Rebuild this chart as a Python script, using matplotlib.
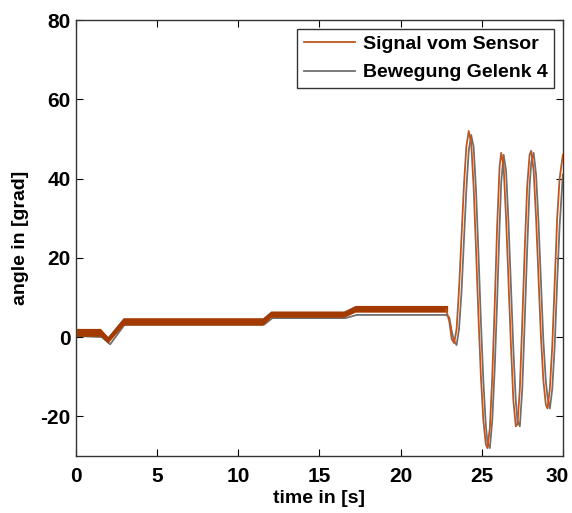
import matplotlib
matplotlib.use('Agg')
import matplotlib.pyplot as plt
import matplotlib.transforms as mtransforms
import numpy as np

# slow part of the sensor signal: noisy band (lower / upper edge)
band_t = [0, 1.5, 1.95, 2.9, 11.5, 12.0, 16.5, 17.2, 22.9]
band_lo = [0.2, 0.2, -1.5, 3.0, 3.0, 5.0, 5.0, 6.3, 6.3]
band_hi = [2.2, 2.2, 0.2, 4.9, 4.9, 6.6, 6.6, 8.0, 8.0]

# joint movement before the oscillation
gelenk_slow_t = [0, 1.6, 2.1, 3.0, 11.6, 12.1, 16.6, 17.3, 22.8]
gelenk_slow_v = [0.3, 0.0, -1.8, 3.2, 3.2, 4.8, 4.8, 5.6, 5.6]

# oscillation part (same time grid for both series)
osc_t = [22.8, 23.0, 23.15, 23.3, 23.45, 23.6, 23.75, 23.9, 24.05, 24.2,
         24.35, 24.5, 24.65, 24.8, 24.95, 25.1, 25.25, 25.35, 25.5, 25.65,
         25.8, 25.95, 26.1, 26.2, 26.35, 26.5, 26.65, 26.8, 26.95, 27.1,
         27.2, 27.35, 27.5, 27.65, 27.8, 27.95, 28.05, 28.2, 28.35, 28.5,
         28.65, 28.8, 28.95, 29.05, 29.2, 29.35, 29.5, 29.65, 29.8, 30.0]
sensor_osc = [7, 4, -0.5, -1.5, 2, 12, 25, 38, 48, 52,
              49, 38, 22, 5, -10, -21, -27, -28, -23, -10,
              8, 28, 43, 46.5, 43, 30, 14, -2, -16, -22.5,
              -22, -13, 4, 22, 38, 46, 47, 42, 30, 15,
              0, -11, -17, -18, -13, -2, 14, 30, 40, 46]
gelenk_osc = [5.6, 5, 1.5, -1, -2, 2, 11, 24, 37, 47,
              51, 48, 37, 21, 4, -11, -22, -26.5, -28, -21,
              -8, 9, 28, 39, 46, 42, 29, 13, -3, -16,
              -21, -22.5, -13, 4, 22, 38, 44, 46.5, 41, 29,
              14, -1, -11, -15, -18, -13, -2, 14, 28, 41]

x_ticks = [0, 5, 10, 15, 20, 25, 30]
y_ticks = [-20, 0, 20, 40, 60, 80]

brown_band = '#a33a00'
brown_line = '#c0561f'
gray = '#707070'

plt.rcParams['font.family'] = ['Liberation Sans', 'DejaVu Sans']
plt.rcParams['font.weight'] = 'bold'
plt.rcParams['axes.unicode_minus'] = False

fig = plt.figure(figsize=(5.72, 5.13), dpi=100)
ax = fig.add_axes([0.133, 0.111, 0.851, 0.850])

# joint movement (gray) below the sensor signal
ax.plot(gelenk_slow_t, gelenk_slow_v, color=gray, lw=1.3, zorder=2)
ax.plot(osc_t, gelenk_osc, color=gray, lw=1.3, zorder=2)

# sensor signal
ax.fill_between(band_t, band_lo, band_hi, color=brown_band, lw=0, zorder=3)
ax.plot(osc_t, sensor_osc, color=brown_line, lw=1.3, zorder=3)

# legend handles
h1, = ax.plot([], [], color=brown_line, lw=1.3, label='Signal vom Sensor')
h2, = ax.plot([], [], color=gray, lw=1.3, label='Bewegung Gelenk 4')
leg = ax.legend(handles=[h1, h2], loc='upper right', fontsize=14,
                frameon=True, fancybox=False, edgecolor='black',
                borderaxespad=0.45, labelspacing=0.55, handlelength=2.6,
                handletextpad=0.4, borderpad=0.35)
leg.get_frame().set_linewidth(1.0)
for txt in leg.get_texts():
    txt.set_fontweight('bold')

ax.set_xlim(0, 30)
ax.set_ylim(-30, 80)
ax.set_xticks(x_ticks)
ax.set_yticks(y_ticks)
ax.tick_params(direction='in', top=True, right=True, length=5, width=0.8,
               labelsize=15)
ax.tick_params(axis='x', pad=8)
ax.tick_params(axis='y', pad=4)
for lab in ax.get_xticklabels() + ax.get_yticklabels():
    lab.set_fontweight('bold')

# keep the last x tick label inside the figure
last = ax.get_xticklabels()[-1]
last.set_transform(last.get_transform() +
                   mtransforms.ScaledTranslation(-6 / 100, 0, fig.dpi_scale_trans))

for sp in ax.spines.values():
    sp.set_color('#333333')
    sp.set_linewidth(1.0)

ax.set_xlabel('time in [s]', fontsize=14, fontweight='bold', labelpad=3)
ax.set_ylabel('angle in [grad]', fontsize=14, fontweight='bold', labelpad=8)

fig.savefig('out.png', dpi=100)
